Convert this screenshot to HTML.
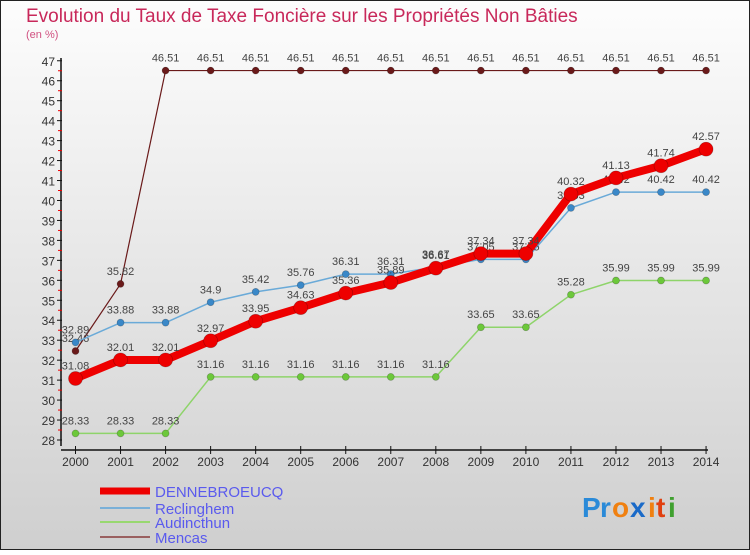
<!DOCTYPE html>
<html><head><meta charset="utf-8"><style>
html,body{margin:0;padding:0}
body{width:750px;height:550px;overflow:hidden;font-family:"Liberation Sans",sans-serif}
svg text{font-family:"Liberation Sans",sans-serif}
</style></head><body>
<svg id="c" width="750" height="550" xmlns="http://www.w3.org/2000/svg">
<defs><linearGradient id="bg" x1="0" y1="0" x2="0" y2="1"><stop offset="0" stop-color="#fdfdfd"/><stop offset="1" stop-color="#cfcfcf"/></linearGradient></defs>
<rect x="0.5" y="0.5" width="749" height="549" fill="url(#bg)" stroke="#222"/>
<text x="26" y="22" font-size="19" fill="#c8285a">Evolution du Taux de Taxe Foncière sur les Propriétés Non Bâties</text>
<text x="26" y="38" font-size="11" fill="#d05080">(en %)</text>
<g id="axes"></g><g id="series"></g><g id="legend"></g>
<g font-size="28" font-weight="bold">
<text x="582" y="517" fill="#2a8ad8">P</text><text x="600" y="517" fill="#2a8ad8">r</text><text x="612" y="517" fill="#f08010">o</text><text x="630" y="517" fill="#1a6ac8">x</text><text x="648" y="517" fill="#f08010">i</text><text x="656" y="517" fill="#e04010">t</text><text x="668" y="517" fill="#40a030">i</text>
</g>
</svg>
<script>
const years=[2000,2001,2002,2003,2004,2005,2006,2007,2008,2009,2010,2011,2012,2013,2014];
const yTicks=[28,29,30,31,32,33,34,35,36,37,38,39,40,41,42,43,44,45,46,47];
const dennebroeucq=[31.08,32.01,32.01,32.97,33.95,34.63,35.36,35.89,36.61,37.34,37.34,40.32,41.13,41.74,42.57];
const reclinghem=[32.89,33.88,33.88,34.9,35.42,35.76,36.31,36.31,36.67,37.05,37.05,39.63,40.42,40.42,40.42];
const audincthun=[28.33,28.33,28.33,31.16,31.16,31.16,31.16,31.16,31.16,33.65,33.65,35.28,35.99,35.99,35.99];
const mencas=[32.46,35.82,46.51,46.51,46.51,46.51,46.51,46.51,46.51,46.51,46.51,46.51,46.51,46.51,46.51];
const NS="http://www.w3.org/2000/svg";
const x=i=>75.5+i*45.04;
const y=v=>440-(v-28)*19.96;
function mk(tag,attrs,parent){const e=document.createElementNS(NS,tag);for(const k in attrs)e.setAttribute(k,attrs[k]);parent.appendChild(e);return e;}
const ax=document.getElementById('axes');
let e=mk('line',{x1:61,y1:58,x2:61,y2:446,stroke:'#111','stroke-width':1.5},ax);


e=mk('line',{x1:61,y1:450,x2:708,y2:450,stroke:'#111','stroke-width':1.5},ax);


yTicks.forEach(t=>{
  mk('line',{x1:57,y1:y(t),x2:62,y2:y(t),stroke:'#111'},ax);
  if(t<47)mk('line',{x1:58,y1:y(t+0.5),x2:62,y2:y(t+0.5),stroke:'#e00'},ax);
  const tx=mk('text',{x:55,y:y(t)+5,'text-anchor':'end','font-size':12,fill:'#333'},ax);
  tx.textContent=t;
  
  
});
years.forEach((yr,i)=>{
  mk('line',{x1:x(i),y1:446,x2:x(i),y2:454,stroke:'#111'},ax);
  const tx=mk('text',{x:x(i),y:466,'text-anchor':'middle','font-size':12,fill:'#333'},ax);
  tx.textContent=yr;
  
  
});
const sg=document.getElementById('series');
const series=[
 {name:'mencas',vals:mencas,color:'#6a1a1a',w:1.2,r:3.5},
 {name:'audincthun',vals:audincthun,color:'#8ed46a',w:1.5,r:3.5,fill:'#6cc83a'},
 {name:'reclinghem',vals:reclinghem,color:'#6aaad8',w:1.5,r:3.5,fill:'#3a88c8'},
 {name:'dennebroeucq',vals:dennebroeucq,color:'#ee0000',w:8,r:7}
];
series.forEach(s=>{
  const g=mk('g',{},sg);
  
  
  const pl=mk('polyline',{points:s.vals.map((v,i)=>x(i)+','+y(v)).join(' '),fill:'none',stroke:s.color,'stroke-width':s.w,'stroke-linejoin':'round'},g);
  
  
  s.vals.forEach((v,i)=>{
    const c=mk('circle',{cx:x(i),cy:y(v),r:s.r,fill:s.fill||s.color,stroke:'#0004','stroke-width':0.7},g);
    
    
    const t=mk('text',{x:x(i),y:y(v)-9,'text-anchor':'middle','font-size':11,fill:'#444'},g);
    t.textContent=v;
    
    
  });
});
const lg=document.getElementById('legend');
const leg=[['DENNEBROEUCQ','#ee0000',7,491],['Reclinghem','#7ab0d8',2,508],['Audincthun','#98d870',2,522],['Mencas','#9a6060',2,537]];
leg.forEach(l=>{
  const g=mk('g',{},lg);
  
  
  mk('line',{x1:100,y1:l[3],x2:150,y2:l[3],stroke:l[1],'stroke-width':l[2]},g);
  const t=mk('text',{x:155,y:l[3]+6,'font-size':15,fill:'#5a5aee'},g);
  t.textContent=l[0];
});
</script>
</body></html>
